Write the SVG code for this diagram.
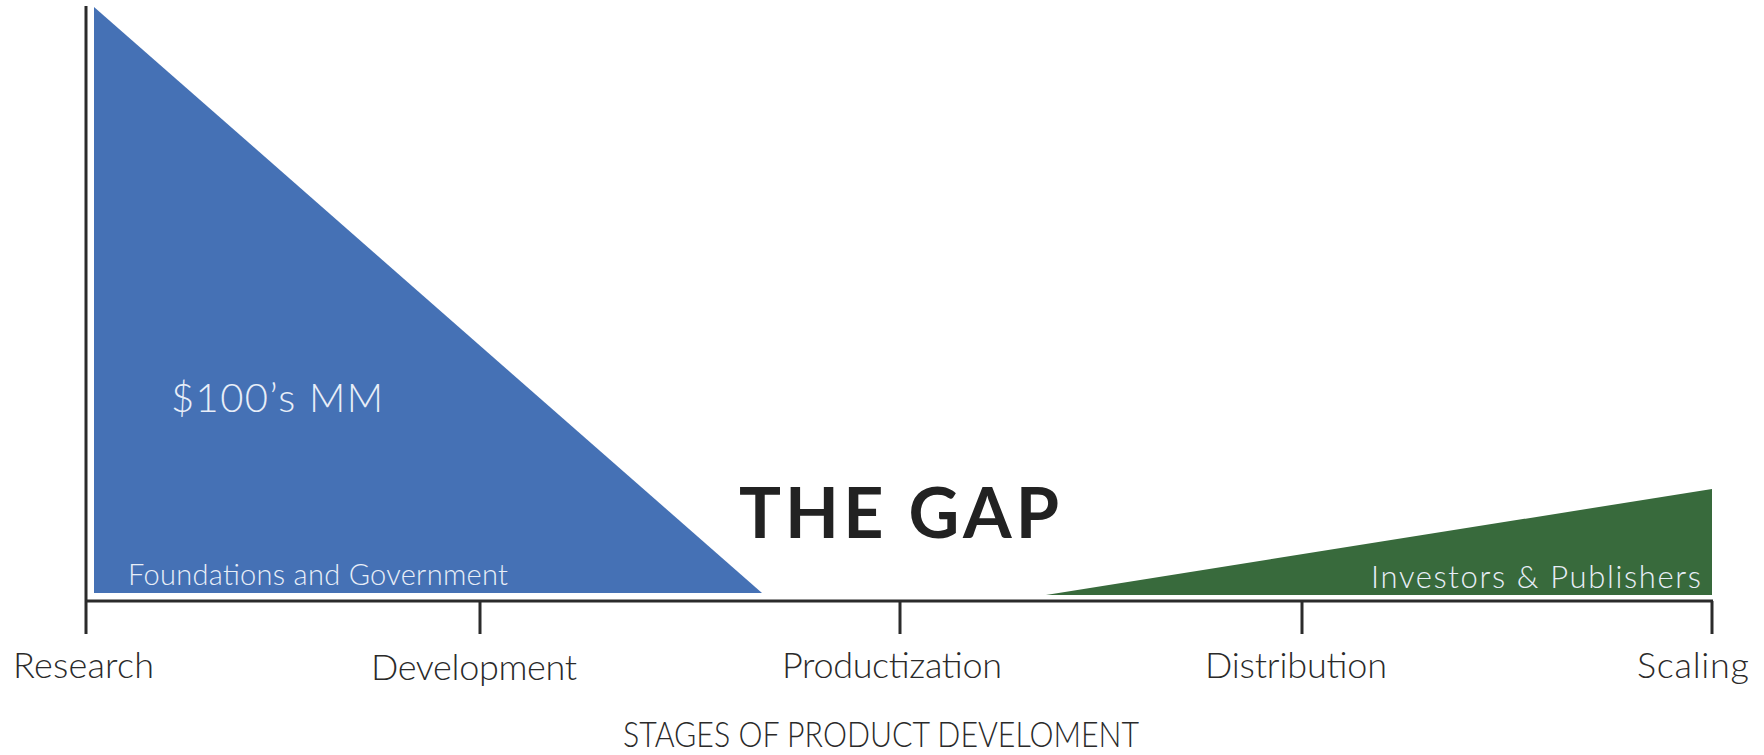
<svg xmlns="http://www.w3.org/2000/svg" width="1764" height="755" viewBox="0 0 1764 755">
  <style>
    .axis { stroke: #2b2b2b; stroke-width: 3; fill: none; }
    .stage { font-family: Lato, "Liberation Sans", sans-serif; font-weight: 300; font-size: 36px; fill: #2a2a2a; }
    .inner { font-family: Lato, "Liberation Sans", sans-serif; font-weight: 300; fill: #e8eef8; }
    .title { font-family: Lato, "Liberation Sans", sans-serif; font-weight: 700; font-size: 70px; fill: #222; }
  </style>
  <rect width="1764" height="755" fill="#ffffff"/>

  <!-- funding areas -->
  <g id="foundations">
    <polygon points="94,7 94,593 762,593" fill="#4571b5"/>
    <text class="inner" x="171" y="412" font-size="40" textLength="212">$100’s MM</text>
    <text class="inner" x="128" y="585" font-size="29" textLength="380">Foundations and Government</text>
  </g>
  <g id="investors">
    <polygon points="1046,595 1712,489 1712,595" fill="#386a3c"/>
    <text class="inner" x="1371" y="588" font-size="31" textLength="330">Investors &amp; Publishers</text>
  </g>
  <g id="gap">
    <text class="title" x="739" y="538" textLength="320">THE GAP</text>
  </g>

  <!-- axes and stage ticks -->
  <g id="axes">
    <line class="axis" x1="86" y1="6" x2="86" y2="634"/>
    <line class="axis" x1="86" y1="601" x2="1713" y2="601"/>
    <line class="axis" x1="480" y1="601" x2="480" y2="634"/>
    <line class="axis" x1="900" y1="601" x2="900" y2="634"/>
    <line class="axis" x1="1302" y1="601" x2="1302" y2="634"/>
    <line class="axis" x1="1712" y1="601" x2="1712" y2="634"/>
  </g>

  <g id="stages">
    <text class="stage" x="13" y="678" textLength="141">Research</text>
    <text class="stage" x="371" y="680" textLength="206">Development</text>
    <text class="stage" x="782" y="678" textLength="220">Productization</text>
    <text class="stage" x="1205" y="678" textLength="182">Distribution</text>
    <text class="stage" x="1637" y="678" textLength="112">Scaling</text>
  </g>
  <g id="axis-title">
    <text class="stage" x="623" y="747" font-size="38" textLength="516" lengthAdjust="spacingAndGlyphs">STAGES OF PRODUCT DEVELOMENT</text>
  </g>
</svg>
